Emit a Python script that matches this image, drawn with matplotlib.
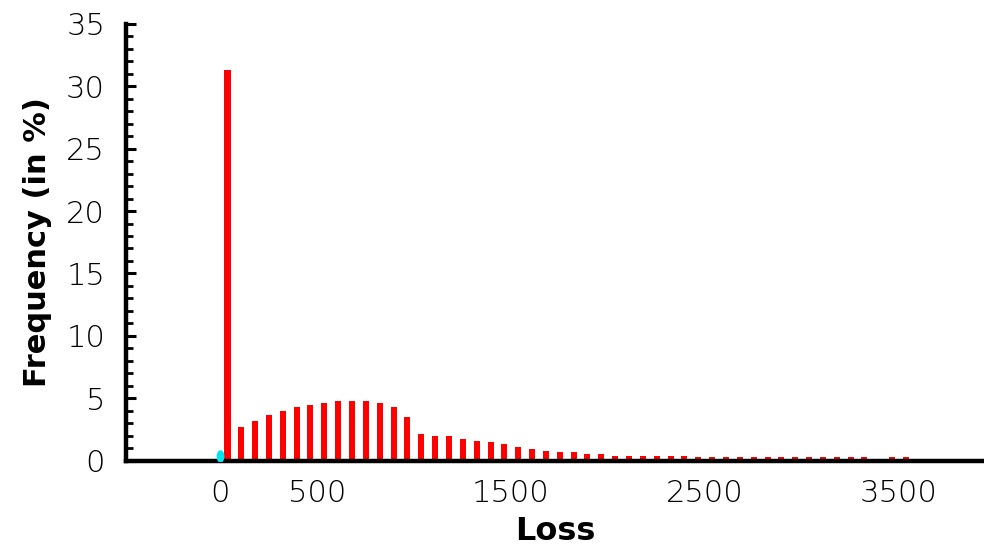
"""Loss distribution histogram: frequency (%) per loss bin."""
import numpy as np
import matplotlib; matplotlib.use("Agg"); import matplotlib.pyplot as plt
from matplotlib.path import Path
from matplotlib.transforms import Affine2D

BIN_W = 71.5                      # loss bin width
freq = [31.3, 2.7, 3.15, 3.65, 4.0, 4.3, 4.45, 4.6, 4.75, 4.75,
        4.75, 4.6, 4.3, 3.5, 2.1, 1.95, 1.95, 1.75, 1.6, 1.45,
        1.3, 1.1, 0.95, 0.8, 0.65, 0.65, 0.5, 0.5, 0.35, 0.35,
        0.35, 0.35, 0.35, 0.35, 0.3, 0.3, 0.3, 0.3, 0.3, 0.3,
        0.3, 0.3, 0.3, 0.3, 0.3, 0.3, 0.3, 0.0, 0.3, 0.3]
zero_loss, zero_freq = 0, 0.35    # cyan marker at the origin
xticks = [0, 500, 1500, 2500, 3500]

centers = BIN_W * (np.arange(len(freq)) + 0.5)
fig = plt.figure(figsize=(9.84, 5.45), dpi=100)
ax = fig.add_axes([0.128, 0.155, 0.872, 0.801])
widths = [40] + [31] * (len(freq) - 1)
ax.bar(centers, freq, width=widths, color="#ff0000", zorder=2)
ell = Path.unit_circle().transformed(Affine2D().scale(0.62, 1.0))
ax.plot([zero_loss], [zero_freq], marker=ell, ms=9, color="#00e5ee", mec="none", zorder=3)

ax.set_xlim(-488, 3942); ax.set_ylim(0, 35)
for s in ("top", "right"): ax.spines[s].set_visible(False)
for s in ("left", "bottom"): ax.spines[s].set_linewidth(3.2)
ax.set_xticks(xticks); ax.set_xticklabels([str(t) for t in xticks])
ax.set_yticks(np.arange(0, 36, 5)); ax.set_yticks(np.arange(0, 36, 1), minor=True)
ax.tick_params(axis="x", length=0, pad=13, labelsize=22)
ax.tick_params(axis="y", which="major", direction="in", length=7, width=2.2, pad=15, labelsize=22)
ax.tick_params(axis="y", which="minor", direction="in", length=5, width=2.0)
for lb in ax.get_xticklabels() + ax.get_yticklabels(): lb.set_fontweight("light")
ax.set_xlabel("Loss", fontsize=23, weight="bold", labelpad=6)
ax.set_ylabel("Frequency (in %)", fontsize=22, weight="bold", labelpad=10)
fig.savefig("out.png", dpi=100)
